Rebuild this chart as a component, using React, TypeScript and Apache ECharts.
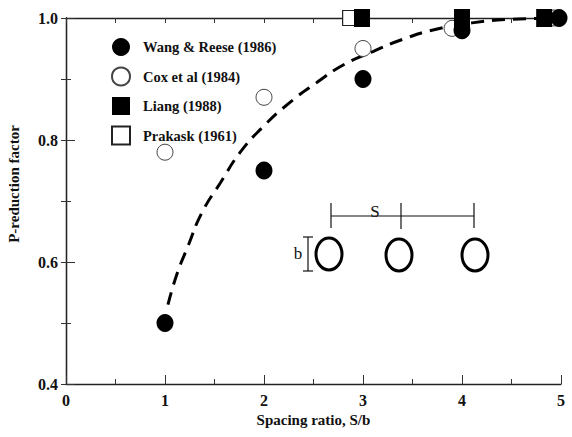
import React, { useEffect, useRef } from "react";
import * as echarts from "echarts";

const wangReese: [number, number][] = [[1, 0.5], [2, 0.75], [3, 0.9], [4, 0.98], [4.98, 1.0]];
const coxEtAl: [number, number][] = [[1, 0.78], [2, 0.87], [3, 0.95], [3.9, 0.983], [4.93, 1.0]];
const liang: [number, number][] = [[2.99, 1.0], [4.0, 1.0], [4.83, 1.0]];
const prakask: [number, number][] = [[2.87, 1.0]];
const fitCurve: [number, number][] = [
  [1.03, 0.53], [1.12, 0.58], [1.23, 0.625], [1.37, 0.68], [1.56, 0.73], [1.76, 0.78],
  [1.98, 0.82], [2.25, 0.86], [2.54, 0.895], [2.8, 0.923], [3.1, 0.945], [3.4, 0.965],
  [3.75, 0.982], [4.1, 0.992], [4.5, 0.998], [5.0, 1.0],
];
const seriesNames = ["Wang & Reese (1986)", "Cox et al (1984)", "Liang (1988)", "Prakask (1961)"];
const xTitle = "Spacing ratio, S/b";
const yTitle = "P-reduction factor";

const FONT = "'Liberation Serif', 'Times New Roman', serif";

export default function App() {
  const ref = useRef<HTMLDivElement>(null);
  useEffect(() => {
    if (!ref.current) return;
    const chart = echarts.init(ref.current, undefined, { renderer: "svg" });
    const axisLine = { show: true, lineStyle: { color: "#222", width: 1.3 } };
    const labelStyle = { color: "#111", fontFamily: FONT, fontWeight: "bold" as const, fontSize: 16 };
    const inset = "#111";
    chart.setOption({
      animation: false,
      backgroundColor: "#fff",
      grid: { left: 66, right: 11, top: 18, bottom: 53 },
      legend: {
        orient: "vertical",
        left: 106,
        top: 33,
        itemWidth: 18,
        itemHeight: 18,
        itemGap: 10.5,
        data: [
          { name: seriesNames[0], icon: "circle" },
          { name: seriesNames[1], icon: "circle" },
          { name: seriesNames[2], icon: "rect" },
          { name: seriesNames[3], icon: "rect" },
        ],
        textStyle: { fontFamily: FONT, fontWeight: "bold", fontSize: 14.5, color: "#111", padding: [0, 0, 0, 8] },
      },
      xAxis: [
        {
          type: "value", min: 0, max: 5, interval: 1, position: "bottom",
          name: xTitle, nameLocation: "middle", nameGap: 26,
          nameTextStyle: { fontFamily: FONT, fontWeight: "bold", fontSize: 15, color: "#111" },
          axisLine, splitLine: { show: false },
          axisTick: { inside: true, length: 9, lineStyle: { color: "#333" } },
          minorTick: { show: true, splitNumber: 2, length: 5, lineStyle: { color: "#333" } },
          axisLabel: { ...labelStyle, margin: 8 },
        },
        {
          type: "value", min: 0, max: 5, interval: 0.5, position: "top",
          axisLine, splitLine: { show: false },
          axisTick: { inside: true, length: 5, lineStyle: { color: "#333" } },
          axisLabel: { show: false },
        },
      ],
      yAxis: [
        {
          type: "value", min: 0.4, max: 1.0, interval: 0.2, position: "left",
          axisLine, splitLine: { show: false },
          axisTick: { inside: true, length: 9, lineStyle: { color: "#333" } },
          minorTick: { show: true, splitNumber: 2, length: 5, lineStyle: { color: "#333" } },
          axisLabel: { ...labelStyle, margin: 8, formatter: (v: number) => v.toFixed(1) },
        },
        {
          type: "value", min: 0.4, max: 1.0, interval: 0.1, position: "right",
          axisLine, splitLine: { show: false },
          axisTick: { inside: true, length: 5, lineStyle: { color: "#333" } },
          axisLabel: { show: false },
        },
      ],
      series: [
        {
          type: "line", data: fitCurve, smooth: true, symbol: "none", silent: true,
          lineStyle: { color: "#000", width: 3, type: [13, 8] }, z: 2,
        },
        {
          name: seriesNames[1], type: "scatter", data: coxEtAl, symbol: "circle", symbolSize: 16, clip: false,
          itemStyle: { color: "#fff", borderColor: "#444", borderWidth: 1, opacity: 1 }, z: 3,
        },
        {
          name: seriesNames[3], type: "scatter", data: prakask, symbol: "rect", symbolSize: 15, clip: false,
          itemStyle: { color: "#fff", borderColor: "#222", borderWidth: 1.2, opacity: 1 }, z: 3,
        },
        {
          name: seriesNames[0], type: "scatter", data: wangReese, symbol: "circle", symbolSize: [17, 18], clip: false,
          itemStyle: { color: "#000", opacity: 1 }, z: 4,
        },
        {
          name: seriesNames[2], type: "scatter", data: liang, symbol: "rect", symbolSize: [16, 18], clip: false,
          itemStyle: { color: "#000", opacity: 1 }, z: 4,
        },
      ],
      graphic: [
        { type: "text", x: 14, y: 184, rotation: Math.PI / 2,
          style: { text: yTitle, fontFamily: FONT, fontWeight: "bold", fontSize: 15, fill: "#111", align: "center", verticalAlign: "middle" } },
        { type: "line", shape: { x1: 331, y1: 216, x2: 474, y2: 216 }, style: { stroke: inset, lineWidth: 1.2 } },
        { type: "line", shape: { x1: 331, y1: 203, x2: 331, y2: 228 }, style: { stroke: inset, lineWidth: 1.2 } },
        { type: "line", shape: { x1: 401, y1: 203, x2: 401, y2: 229 }, style: { stroke: inset, lineWidth: 1.2 } },
        { type: "line", shape: { x1: 474, y1: 203, x2: 474, y2: 228 }, style: { stroke: inset, lineWidth: 1.2 } },
        { type: "text", x: 375, y: 211,
          style: { text: "S", fontFamily: FONT, fontSize: 17, fill: inset, align: "center", verticalAlign: "middle" } },
        { type: "line", shape: { x1: 308, y1: 237, x2: 308, y2: 271 }, style: { stroke: inset, lineWidth: 1.2 } },
        { type: "line", shape: { x1: 303, y1: 237, x2: 313, y2: 237 }, style: { stroke: inset, lineWidth: 1.2 } },
        { type: "line", shape: { x1: 303, y1: 271, x2: 313, y2: 271 }, style: { stroke: inset, lineWidth: 1.2 } },
        { type: "text", x: 298, y: 253,
          style: { text: "b", fontFamily: FONT, fontSize: 17, fill: inset, align: "center", verticalAlign: "middle" } },
        { type: "ellipse", shape: { cx: 329, cy: 254, rx: 13, ry: 16 }, style: { fill: "none", stroke: "#000", lineWidth: 3 } },
        { type: "ellipse", shape: { cx: 399, cy: 255, rx: 13, ry: 16 }, style: { fill: "none", stroke: "#000", lineWidth: 3 } },
        { type: "ellipse", shape: { cx: 475, cy: 255, rx: 13, ry: 16 }, style: { fill: "none", stroke: "#000", lineWidth: 3 } },
      ],
    });
    return () => chart.dispose();
  }, []);
  return <div ref={ref} style={{ width: 572, height: 437, position: "absolute", left: 0, top: 0 }} />;
}
